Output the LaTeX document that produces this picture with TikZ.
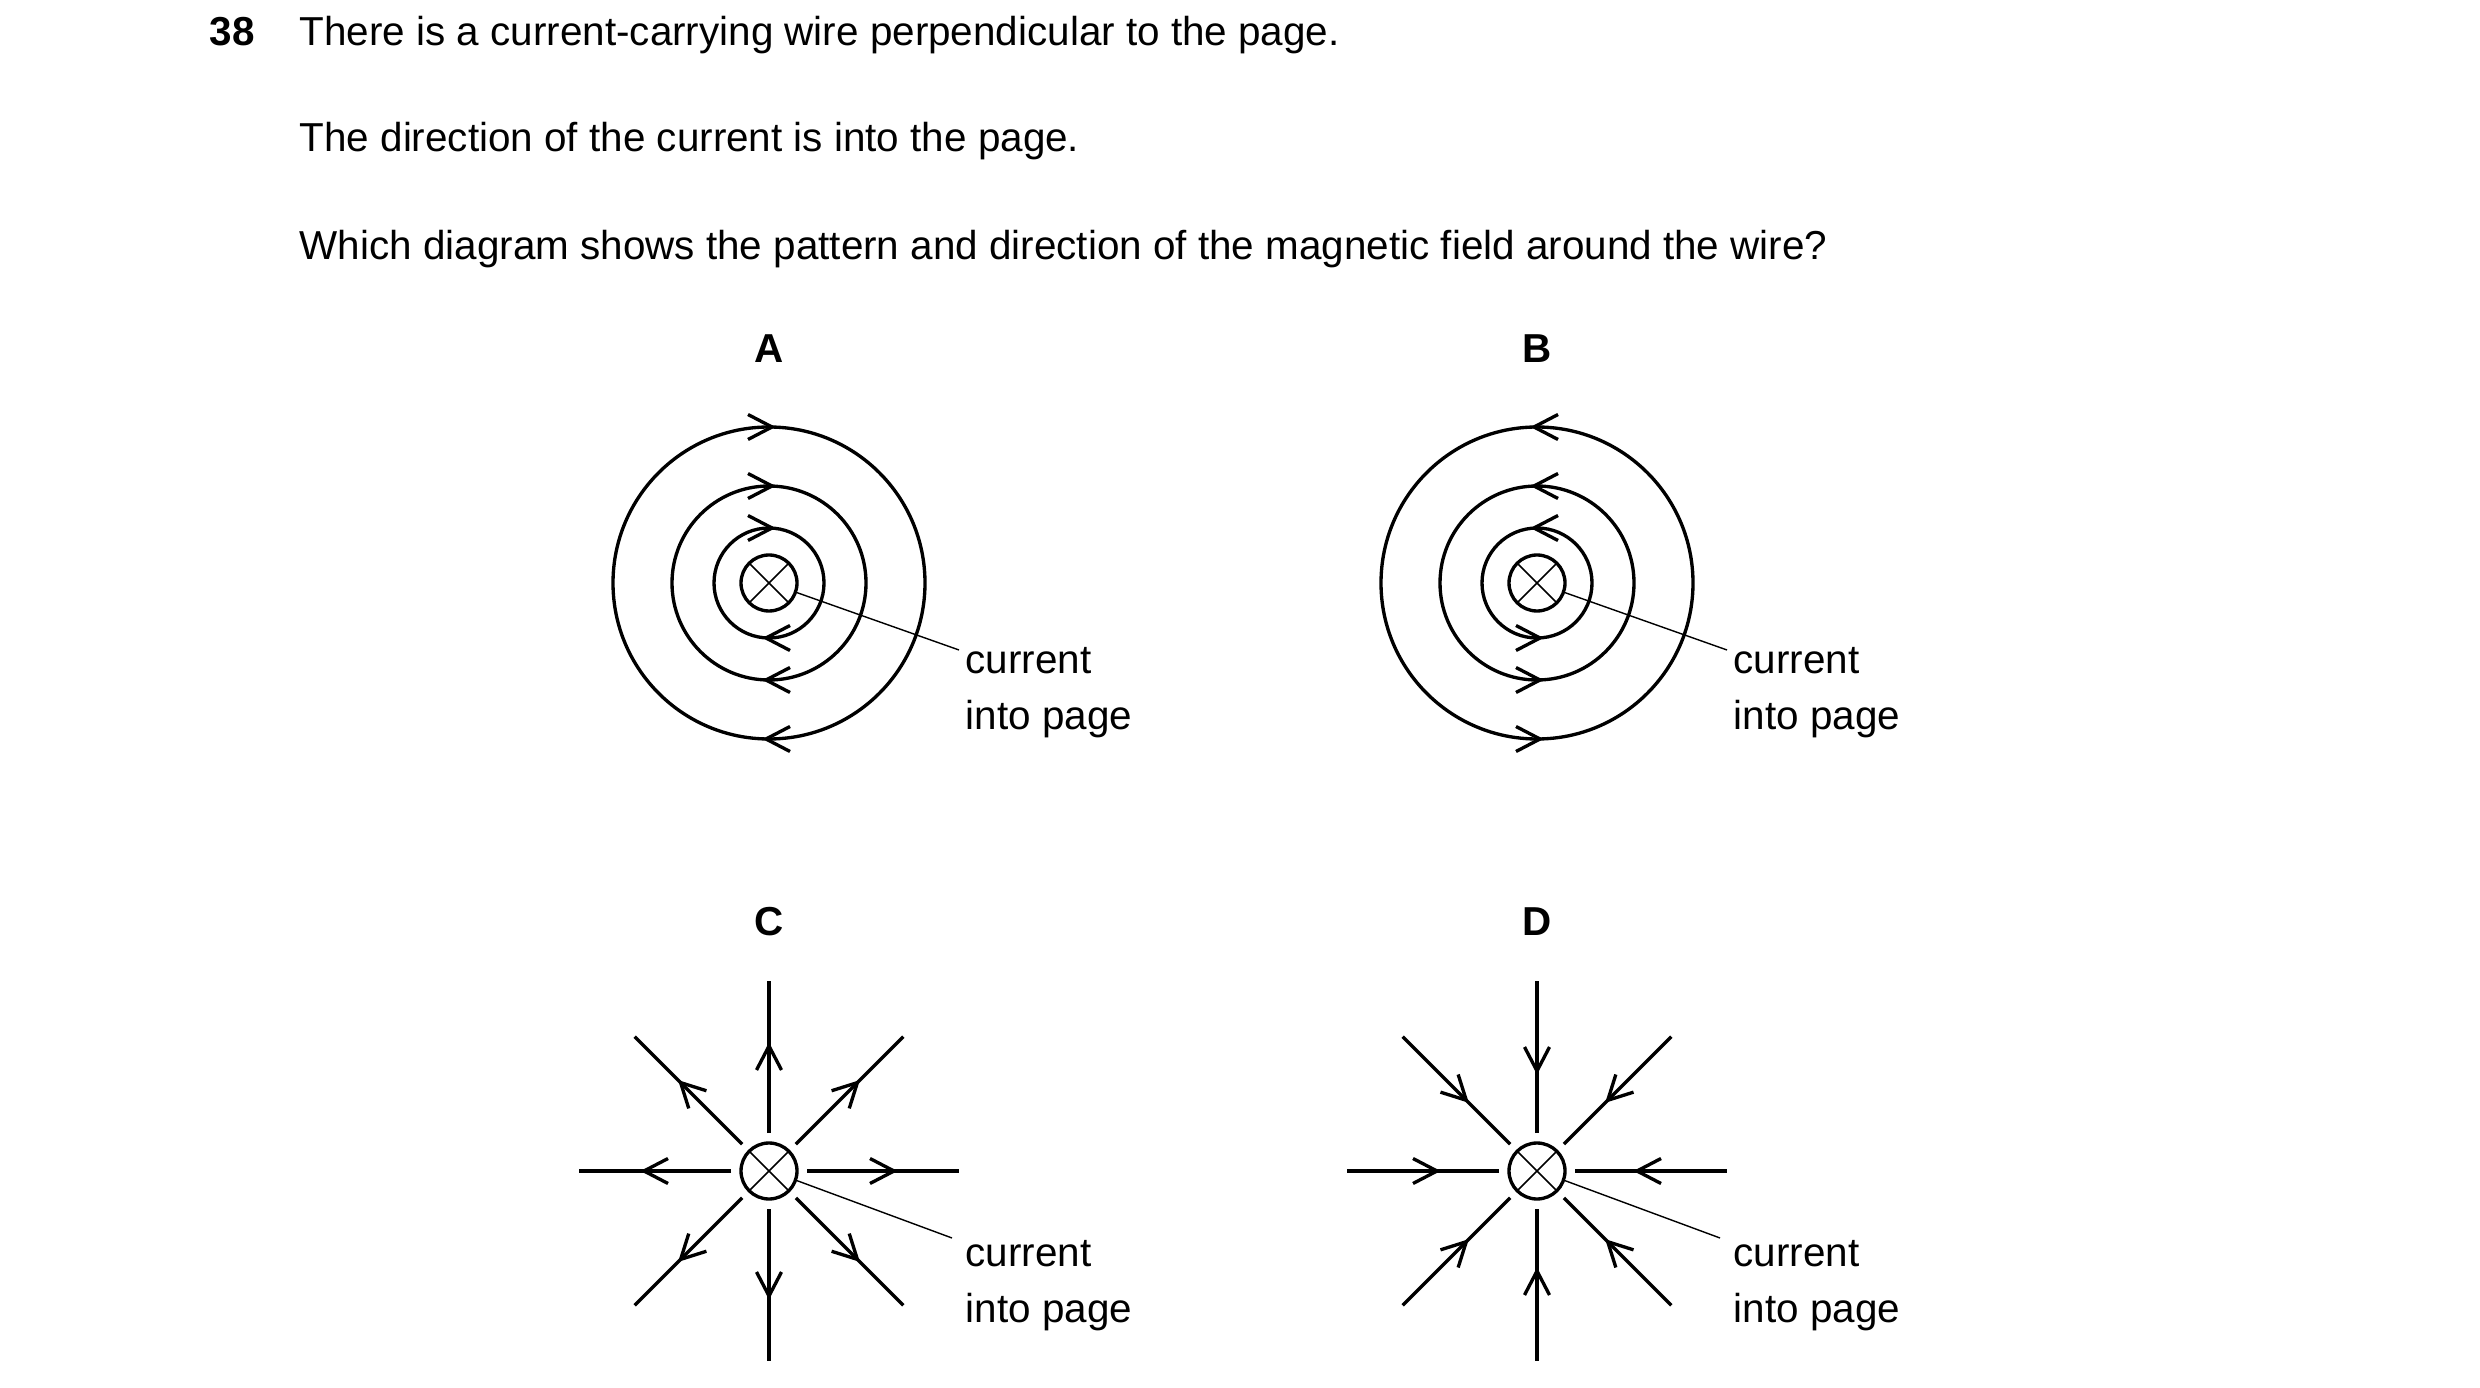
\documentclass[tikz,border=0pt]{standalone}
\usepackage{fontspec}
\setmainfont{Liberation Sans}
\usetikzlibrary{calc}
\begin{document}
\begin{tikzpicture}[x=0.1mm,y=-0.1mm,
  fl/.style={line width=0.95pt},
  wire/.style={circle,draw,line width=0.95pt,minimum size=5.6mm,inner sep=0pt,
    path picture={\draw[line width=0.45pt] (path picture bounding box.north west)--(path picture bounding box.south east)
      (path picture bounding box.north east)--(path picture bounding box.south west);}},
  lead/.style={line width=0.4pt},
  txt/.style={anchor=base west,inner sep=0pt,font=\fontsize{11.5}{14}\selectfont},
  lbl/.style={anchor=base,inner sep=0pt,font=\fontsize{11.5}{14}\selectfont\bfseries},
  chev/.style={line width=0.95pt,miter limit=10}]
\useasboundingbox (0,0) rectangle (2480,1388);
\newcommand{\chv}[3]{\pgfmathsetmacro{\chx}{#1}\pgfmathsetmacro{\chy}{#2}\pgfmathsetmacro{\chr}{#3}%
  \draw[chev,shift={(\chx,\chy)},rotate=\chr] (-24,-12.5)--(0,0)--(-24,12.5);}
% text
\node[txt,font=\fontsize{11.5}{14}\selectfont\bfseries] (qn) at (209,46) {38};
\node[txt] (t1) at (299,46) {There is a current-carrying wire perpendicular to the page.};
\node[txt] (t2) at (299,152) {The direction of the current is into the page.};
\node[txt] (t3) at (299,260) {Which diagram shows the pattern and direction of the magnetic field around the wire?};
\node[lbl] (lA) at (769,363) {A};
\node[lbl] (lB) at (1537,363) {B};
\node[lbl] (lC) at (769,935) {C};
\node[lbl] (lD) at (1537,935) {D};
% A and B
\foreach \cx/\nm/\s in {769/A/1,1537/B/-1}{
  \node[wire] (w\nm) at (\cx,583) {};
  \foreach \r in {156,97,55}{
    \draw[fl] (w\nm.center) circle[radius=\r];
    \pgfmathsetmacro{\ta}{\s>0?0:180}
    \pgfmathsetmacro{\tb}{\s>0?180:0}
    \chv{\cx+3*\s}{583-\r}{\ta}
    \chv{\cx-3*\s}{583+\r}{\tb}
  }
  \coordinate (e\nm) at (\cx+190,650);
  \draw[lead] (w\nm.-19) -- (e\nm);
  \node[txt] (c\nm) at (\cx+196,674) {current};
  \node[txt] (p\nm) at (\cx+196,730) {into page};
}
% C and D
\foreach \cx/\nm/\tr/\rot in {769/C/125/0,1537/D/100/180}{
  \node[wire] (w\nm) at (\cx,1171) {};
  \foreach \a in {0,45,...,315}{
    \draw[fl] ($(w\nm.center)+(\a:3.8mm)$) -- ($(w\nm.center)+(\a:19mm)$);
    \chv{\cx+\tr*cos(\a)}{1171-\tr*sin(\a)}{\a+\rot}
  }
  \coordinate (e\nm) at (\cx+183,1238);
  \draw[lead] (w\nm.-19) -- (e\nm);
  \node[txt] (c\nm) at (\cx+196,1266) {current};
  \node[txt] (p\nm) at (\cx+196,1322) {into page};
}
\end{tikzpicture}
\end{document}
